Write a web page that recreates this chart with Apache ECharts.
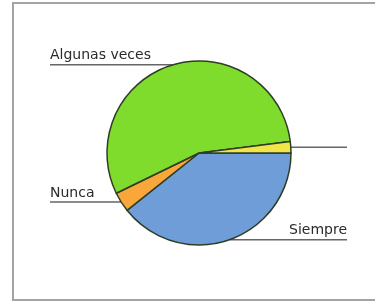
<!DOCTYPE html>
<html>
<head>
<meta charset="utf-8">
<style>
  html, body { margin: 0; padding: 0; background: #fff; }
  #chart { width: 375px; height: 302px; }
</style>
<script src="https://cdn.jsdelivr.net/npm/echarts@6/dist/echarts.min.js"></script>
</head>
<body>
<div id="chart"></div>
<script>
// slices, clockwise from 3 o'clock
var categories = ['Siempre', 'Nunca', 'Algunas veces', ' ']
var values = [39.3, 3.5, 55.2, 2.0]
var sliceColors = ['#6e9dd8', '#f9a63a', '#80dc2c', '#f2e54c']

var chart = echarts.init(document.getElementById('chart'))
var cx = 199
var cy = 153

chart.setOption({
  animation: false,
  backgroundColor: '#fff',
  graphic: [{
    type: 'rect',
    shape: { x: 13, y: 3, width: 420, height: 297 },
    style: { fill: 'none', stroke: '#a4a4a4', lineWidth: 2 },
    silent: true
  }],
  series: [{
    type: 'pie',
    center: [cx, cy],
    radius: 92,
    startAngle: 0,
    clockwise: true,
    avoidLabelOverlap: false,
    data: categories.map(function (name, i) {
      return { name: name, value: values[i], itemStyle: { color: sliceColors[i] } }
    }),
    itemStyle: { borderColor: '#2e3d28', borderWidth: 1.5 },
    label: {
      show: true,
      position: 'outside',
      formatter: '{b}',
      fontFamily: 'DejaVu Sans',
      fontSize: 14,
      color: '#2a2a2a'
    },
    labelLine: {
      show: true,
      length: 4,
      length2: 4,
      lineStyle: { color: '#666', width: 1.5 }
    },
    labelLayout: function (params) {
      // horizontal leader from the slice edge to the frame side, text sitting on it
      var pts = params.labelLinePoints
      var p0 = pts[0]
      var isLeft = p0[0] < cx
      var endX = isLeft ? 50 : 347
      return {
        x: endX,
        y: p0[1] - 2,
        align: isLeft ? 'left' : 'right',
        verticalAlign: 'bottom',
        hideOverlap: false,
        labelLinePoints: [p0, [p0[0], p0[1]], [endX, p0[1]]]
      }
    }
  }]
})
</script>
</body>
</html>
